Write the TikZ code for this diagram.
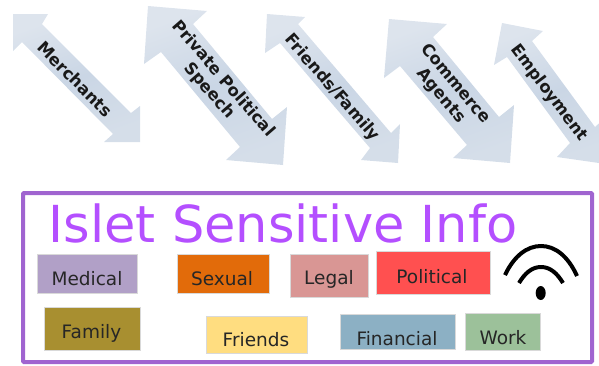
\documentclass[tikz,border=0pt]{standalone}
\usepackage{fontspec}
\setmainfont{DejaVu Sans}
\begin{document}
\begin{tikzpicture}[x=1pt,y=-1pt,
  arrowshape/.style={left color=arrowedge,right color=arrowdark,middle color=arrowmid,shading angle=20,draw=none},
  arrowtext/.style={font=\fontsize{16.5}{18.5}\selectfont\bfseries,text=black!90,align=center,inner sep=0pt},
  tagbox/.style={draw=white!85!black,line width=0.4pt,inner sep=0pt},
  tagtext/.style={font=\fontsize{18.5}{20}\selectfont,text=black!85,inner sep=0pt},
  wifi/.style={line width=4pt,black}]
\definecolor{arrowmid}{HTML}{CAD6E5}
\definecolor{arrowedge}{HTML}{DDE4ED}
\definecolor{arrowdark}{HTML}{D5DEE9}
\useasboundingbox (0,0) rectangle (599,365);
\clip (0,0) rectangle (599,365);
% arrows
\path[arrowshape] (13,14)--(48,14)--(42,24)--(131,113)--(140,106)--(140,142)--(104,142)--(113,134)--(22,42)--(13,51)--cycle;
\path[arrowshape] (148,6)--(207,11)--(193,24)--(272,119)--(287,107)--(283,165)--(226,160)--(240,147)--(161,52)--(144,64)--cycle;
\path[arrowshape] (267,14)--(305,17)--(298,24)--(391,133)--(400,124)--(398,163)--(361,160)--(370,148)--(280,43)--(265,53)--cycle;
\path[arrowshape] (389,19)--(447,24)--(433,37)--(499,117)--(514,105)--(510,163)--(453,158)--(467,145)--(400,66)--(384,78)--cycle;
\path[arrowshape] (502,23)--(543,31)--(532,41)--(595,127)--(606,117)--(599,163)--(557,157)--(570,143)--(507,57)--(494,65)--cycle;
\node[arrowtext,rotate=-45] (merchants) at (75,79) {Merchants};
\node[arrowtext,rotate=-49] (private) at (216,85) {Private Political\\Speech};
\node[arrowtext,rotate=-49] (friendsfamily) at (332,88) {Friends/Family};
\node[arrowtext,rotate=-50] (commerce) at (448,90) {Commerce\\Agents};
\node[arrowtext,rotate=-53] (employment) at (549,93) {Employment};
% frame
\definecolor{framecol}{HTML}{A064D0}
\node[draw=framecol,line width=4pt,rounded corners=1pt,minimum width=569pt,minimum height=169pt,inner sep=0pt] (frame) at (307.5,277.5) {};
\definecolor{titlecol}{HTML}{B44FFF}
\node[text=titlecol,font=\fontsize{51}{55}\selectfont,inner sep=0pt,anchor=base] (title) at (283,242.5) {Islet Sensitive Info};
% tags
\definecolor{cmedical}{HTML}{B1A0C7}
\definecolor{csexual}{HTML}{E26B0A}
\definecolor{clegal}{HTML}{D99694}
\definecolor{cpolitical}{HTML}{FF5050}
\definecolor{cfamily}{HTML}{A88F30}
\definecolor{cfriends}{HTML}{FFDD80}
\definecolor{cfinancial}{HTML}{8CB0C4}
\definecolor{cwork}{HTML}{9CC19A}
\node[tagbox,fill=cmedical,minimum width=100pt,minimum height=39pt] (medical) at (87,273.5) {};
\node[tagtext] (medicalt) at (87,279) {Medical};
\node[tagbox,fill=csexual,minimum width=92pt,minimum height=39pt] (sexual) at (223,273.5) {};
\node[tagtext] (sexualt) at (222,279) {Sexual};
\node[tagbox,fill=clegal,minimum width=78pt,minimum height=43pt] (legal) at (329,275.5) {};
\node[tagtext] (legalt) at (329,279) {Legal};
\node[tagbox,fill=cpolitical,minimum width=114pt,minimum height=43pt] (political) at (433,272.5) {};
\node[tagtext] (politicalt) at (432,277) {Political};
\node[tagbox,fill=cfamily,minimum width=96pt,minimum height=43pt] (family) at (92,328.5) {};
\node[tagtext] (familyt) at (91.5,333) {Family};
\node[tagbox,fill=cfriends,minimum width=101pt,minimum height=37pt] (friends) at (256.5,334.5) {};
\node[tagtext] (friendst) at (256,340) {Friends};
\node[tagbox,fill=cfinancial,minimum width=115pt,minimum height=35pt] (financial) at (397.5,331.5) {};
\node[tagtext] (financialt) at (397,339) {Financial};
\node[tagbox,fill=cwork,minimum width=75pt,minimum height=37pt] (work) at (502.5,331.5) {};
\node[tagtext] (workt) at (503,338) {Work};
% wifi
\draw[wifi] (505,275) .. controls (514,256) and (527,246) .. (541,246) .. controls (555,246) and (568,256) .. (577,276);
\draw[wifi] (519,283) .. controls (525,273) and (532,267) .. (541,267) .. controls (550,267) and (557,273) .. (563,283);
\fill[black] (540.7,293) ellipse (5 and 7);
\end{tikzpicture}
\end{document}
